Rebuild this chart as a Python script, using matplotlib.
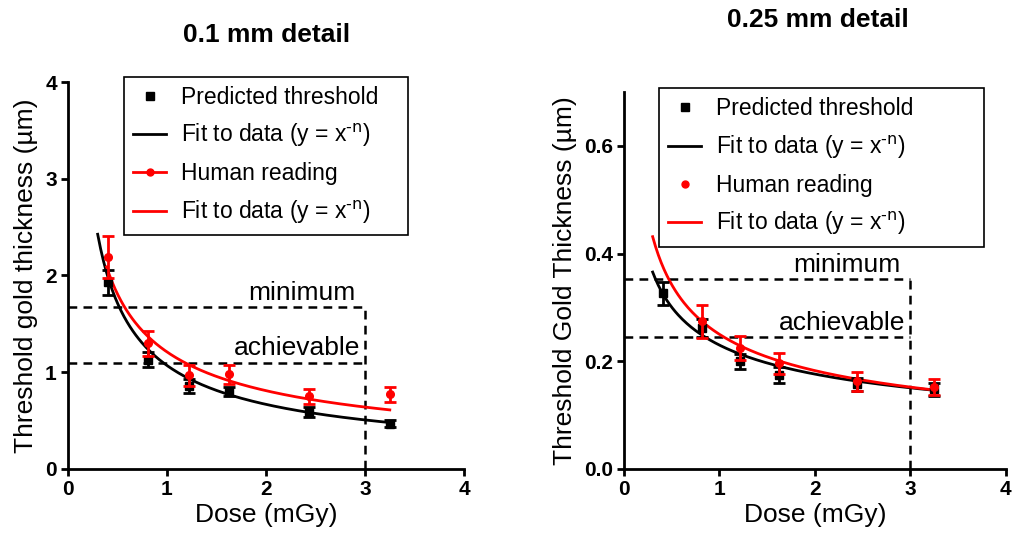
"""
Threshold gold thickness vs dose, two detail sizes side by side
"""

import numpy as np
import matplotlib
matplotlib.use('Agg')
import matplotlib.pyplot as plt
from matplotlib.lines import Line2D

plt.rcParams['font.family'] = ['Liberation Sans', 'DejaVu Sans']
plt.rcParams['mathtext.default'] = 'regular'

# Dose values (mGy)
dose = [0.406, 0.812, 1.218, 1.624, 2.436, 3.248]

# 0.1 mm detail
pred_01 = [1.93, 1.13, 0.86, 0.80, 0.59, 0.47]
pred_01_err = [0.13, 0.08, 0.07, 0.05, 0.05, 0.04]
human_01 = [2.19, 1.30, 0.97, 0.98, 0.75, 0.77]
human_01_err = [0.22, 0.13, 0.11, 0.10, 0.08, 0.08]
fit_pred_01 = (1.07, 0.68, 0.30, 3.25)   # a, n, xmin, xmax
fit_human_01 = (1.21, 0.58, 0.39, 3.25)
minimum_01 = 1.67
achievable_01 = 1.10

# 0.25 mm detail (no human reading at the lowest dose)
pred_025 = [0.326, 0.262, 0.200, 0.175, 0.157, 0.148]
pred_025_err = [0.022, 0.017, 0.014, 0.015, 0.012, 0.012]
dose_h025 = [0.812, 1.218, 1.624, 2.436, 3.248]
human_025 = [0.274, 0.225, 0.196, 0.163, 0.152]
human_025_err = [0.030, 0.022, 0.020, 0.018, 0.015]
fit_pred_025 = (0.230, 0.385, 0.30, 3.26)
fit_human_025 = (0.250, 0.453, 0.30, 3.26)
minimum_025 = 0.352
achievable_025 = 0.245

fit_label = r'Fit to data (y = x$^{\text{-n}}$)'


def fit_curve(ax, params, color):
    a, n, x0, x1 = params
    xs = np.linspace(x0, x1, 200)
    ax.plot(xs, a * xs ** (-n), color=color, lw=2, zorder=3)


def draw_panel(ax, xp, yp, ep, xh, yh, eh, fp, fh, vmin, vach, ylim, yticks, ylabel, human_line):
    # dashed guide lines
    dash = dict(color='black', lw=1.8, ls=(0, (3.5, 2.5)), zorder=1)
    ax.plot([0, 3], [vmin, vmin], **dash)
    ax.plot([0, 3], [vach, vach], **dash)
    ax.plot([3, 3], [0, vmin], **dash)
    ax.text(2.9, vmin + ylim * 0.006, 'minimum', ha='right', va='bottom', fontsize=19)
    ax.text(2.95, vach + ylim * 0.006, 'achievable', ha='right', va='bottom', fontsize=19)

    fit_curve(ax, fp, 'black')
    fit_curve(ax, fh, 'red')
    ax.errorbar(xp, yp, yerr=ep, fmt='s', color='black', ms=5.5, elinewidth=2,
                capsize=4, capthick=2, zorder=4)
    ax.errorbar(xh, yh, yerr=eh, fmt='o', color='red', ms=5.5, elinewidth=2,
                capsize=4.5, capthick=2, zorder=5)

    ax.set_xlim(0, 4)
    ax.set_ylim(0, ylim)
    ax.set_xticks([0, 1, 2, 3, 4])
    ax.set_yticks(yticks)
    ax.set_xlabel('Dose (mGy)', fontsize=19, labelpad=3)
    ax.set_ylabel(ylabel, fontsize=19, labelpad=5)
    for s in ['top', 'right']:
        ax.spines[s].set_visible(False)
    for s in ['left', 'bottom']:
        ax.spines[s].set_linewidth(2)
    ax.tick_params(width=2, length=5, labelsize=15, pad=3)
    for lab in ax.get_xticklabels() + ax.get_yticklabels():
        lab.set_fontweight('bold')

    handles = [
        Line2D([], [], ls='none', marker='s', color='black', ms=5.5),
        Line2D([], [], color='black', lw=2),
        Line2D([], [], ls='-' if human_line else 'none', marker='o', color='red', ms=5, lw=2),
        Line2D([], [], color='red', lw=2),
    ]
    labels = ['Predicted threshold', fit_label, 'Human reading', fit_label]
    return handles, labels


fig = plt.figure(figsize=(10.13, 5.42), dpi=100)
ax1 = fig.add_axes([0.0671, 0.1347, 0.391, 0.714])
ax2 = fig.add_axes([0.616, 0.1347, 0.377, 0.6956])

h1, l1 = draw_panel(ax1, dose, pred_01, pred_01_err, dose, human_01, human_01_err,
                    fit_pred_01, fit_human_01, minimum_01, achievable_01,
                    4, [0, 1, 2, 3, 4], 'Threshold gold thickness (µm)', True)
h2, l2 = draw_panel(ax2, dose, pred_025, pred_025_err, dose_h025, human_025, human_025_err,
                    fit_pred_025, fit_human_025, minimum_025, achievable_025,
                    0.7, [0.0, 0.2, 0.4, 0.6], 'Threshold Gold Thickness (µm)', False)
ax2.set_yticklabels(['0.0', '0.2', '0.4', '0.6'], fontweight='bold')

leg_kw = dict(loc='upper left', fontsize=16.5, fancybox=False, framealpha=1,
              edgecolor='black', handlelength=1.45, handletextpad=0.65,
              borderpad=0.4, borderaxespad=0, mode='expand')
lg1 = fig.legend(h1, l1, bbox_to_anchor=(124 / 1013, 1 - 77 / 542, 284 / 1013, 0),
                 labelspacing=0.57, **leg_kw)
lg2 = fig.legend(h2, l2, bbox_to_anchor=(659 / 1013, 1 - 88 / 542, 325 / 1013, 0),
                 labelspacing=0.58, **leg_kw)
for lg in (lg1, lg2):
    lg.get_frame().set_linewidth(1.2)

fig.text(267 / 1013, 1 - 35 / 542, '0.1 mm detail', ha='center', va='center',
         fontsize=19, fontweight='bold')
fig.text(818 / 1013, 1 - 20 / 542, '0.25 mm detail', ha='center', va='center',
         fontsize=19, fontweight='bold')

fig.savefig('out.png', dpi=100)
